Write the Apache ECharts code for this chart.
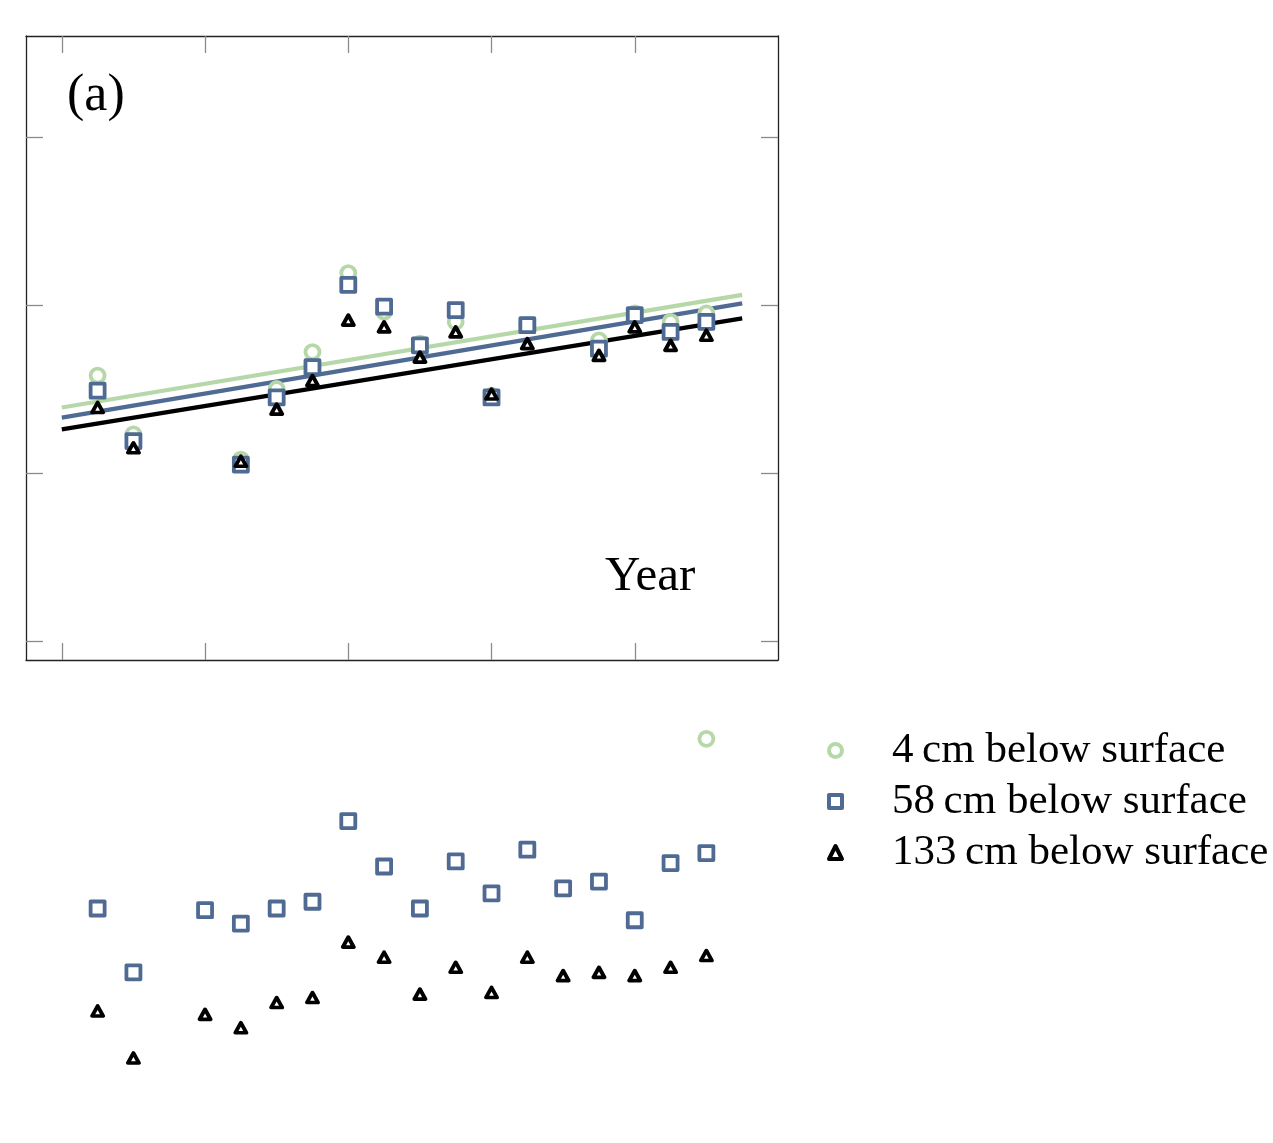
<!DOCTYPE html>
<html><head><meta charset="utf-8">
<script src="https://cdn.jsdelivr.net/npm/echarts@6/dist/echarts.min.js"></script>
<style>html,body{margin:0;padding:0;background:#fff}#c{width:1273px;height:1143px}</style>
</head><body><div id="c"></div>
<script>
// Panel (a)
const yearsTop = [2001,2002,2005,2006,2007,2008,2009,2010,2011,2012,2013,2015,2016,2017,2018];
const top4   = [9.58,9.23,9.08,9.50,9.72,10.19,9.96,9.77,9.90,9.46,9.88,9.79,9.95,9.90,9.95];
const top58  = [9.49,9.19,9.05,9.45,9.63,10.12,9.99,9.76,9.97,9.45,9.88,9.74,9.94,9.84,9.90];
const top133 = [9.39,9.15,9.07,9.38,9.55,9.91,9.87,9.69,9.84,9.47,9.77,9.70,9.87,9.76,9.82];
// Fitted trend lines (endpoints)
const fitYears = [2000, 2019];
const fit4   = [9.39, 10.06];
const fit58  = [9.33, 10.01];
const fit133 = [9.26, 9.92];
// Lower panel
const yearsBottom = [2001,2002,2004,2005,2006,2007,2008,2009,2010,2011,2012,2013,2014,2015,2016,2017,2018];
const bottom58  = [1.14,0.76,1.13,1.05,1.14,1.18,1.66,1.39,1.14,1.42,1.23,1.49,1.26,1.30,1.07,1.41,1.47];
const bottom133 = [0.53,0.25,0.51,0.43,0.58,0.61,0.94,0.85,0.63,0.79,0.64,0.85,0.74,0.76,0.74,0.79,0.86];
const yearsBottom4 = [2018];
const bottom4 = [2.15];
// Ticks
const xTicks = [2000, 2004, 2008, 2012, 2016];
const yTicks = [8, 9, 10, 11];
const names = ['4\u2009cm below surface', '58\u2009cm below surface', '133\u2009cm below surface'];

const GREEN = '#b6d8a9', BLUE = '#4f6a93', BLACK = '#000000';
const FONT = 'Liberation Serif';
const zip = (xs, ys) => xs.map((x, i) => [x, ys[i]]);

const tickStyle = { show: true, inside: true, length: 17, lineStyle: { color: '#8a8a8a', width: 1.3 } };
const lineStyle = { color: '#222', width: 1.3 };
function xAx(pos, grid, ticks) {
  return { type: 'value', gridIndex: grid, position: pos, min: 1999, max: 2020,
    axisLine: { show: ticks, onZero: false, lineStyle }, splitLine: { show: false },
    axisTick: Object.assign({}, tickStyle, { show: ticks, customValues: xTicks }),
    axisLabel: { show: false }, show: ticks };
}
function yAx(pos, grid, ticks, min, max) {
  return { type: 'value', gridIndex: grid, position: pos, min, max,
    axisLine: { show: ticks, onZero: false, lineStyle }, splitLine: { show: false },
    axisTick: Object.assign({}, tickStyle, { show: ticks, customValues: yTicks }),
    axisLabel: { show: false }, show: ticks };
}
const yMinTop = 8 - 19/168, yMaxTop = 8 + 605/168;

const BW = 3.8;
const circleStyle = { color: '#fff', borderColor: GREEN, borderWidth: BW, opacity: 1 };
const squareStyle = { color: '#fff', borderColor: BLUE, borderWidth: BW, borderJoin: 'round', opacity: 1 };
const triStyle = { color: '#fff', borderColor: BLACK, borderWidth: BW, borderJoin: 'round', opacity: 1 };

const option = {
  animation: false,
  backgroundColor: '#fff',
  grid: [
    { left: 26, top: 36, width: 752, height: 624 },
    { left: 26, top: 680, width: 752, height: 420 }
  ],
  xAxis: [xAx('bottom', 0, true), xAx('top', 0, true), xAx('bottom', 1, false)],
  yAxis: [yAx('left', 0, true, yMinTop, yMaxTop), yAx('right', 0, true, yMinTop, yMaxTop),
          { type: 'value', gridIndex: 1, min: 0, max: 2.5, show: false }],
  legend: {
    orient: 'vertical', left: 822, top: 724, itemGap: 8,
    itemWidth: 13, itemHeight: 13,
    data: [
      { name: names[0], icon: 'circle', itemStyle: { color: '#fff', borderColor: GREEN, borderWidth: 4 } },
      { name: names[1], icon: 'rect', itemStyle: { color: '#fff', borderColor: BLUE, borderWidth: 4, borderJoin: 'round' } },
      { name: names[2], icon: 'triangle', itemStyle: { color: '#fff', borderColor: BLACK, borderWidth: 4, borderJoin: 'round' } }
    ],
    textStyle: { fontFamily: FONT, fontSize: 43, color: '#000', padding: [0, 0, 0, 45] }
  },
  graphic: [
    { type: 'text', left: 67, top: 70, style: { text: '(a)', fontFamily: FONT, fontSize: 52, fill: '#000' } },
    { type: 'text', left: 605, top: 553, style: { text: 'Year', fontFamily: FONT, fontSize: 49, fill: '#000' } }
  ],
  series: [
    { type: 'line', name: 'fit4', xAxisIndex: 0, yAxisIndex: 0, data: zip(fitYears, fit4), symbol: 'none',
      lineStyle: { color: GREEN, width: 4.2 }, z: 1 },
    { type: 'line', name: 'fit58', xAxisIndex: 0, yAxisIndex: 0, data: zip(fitYears, fit58), symbol: 'none',
      lineStyle: { color: BLUE, width: 4.2 }, z: 1 },
    { type: 'line', name: 'fit133', xAxisIndex: 0, yAxisIndex: 0, data: zip(fitYears, fit133), symbol: 'none',
      lineStyle: { color: BLACK, width: 4.2 }, z: 1 },
    { type: 'scatter', name: names[0], xAxisIndex: 0, yAxisIndex: 0, data: zip(yearsTop, top4),
      symbol: 'circle', symbolSize: 14, itemStyle: circleStyle, z: 2 },
    { type: 'scatter', name: names[1], xAxisIndex: 0, yAxisIndex: 0, data: zip(yearsTop, top58),
      symbol: 'rect', symbolSize: 14, itemStyle: squareStyle, z: 3 },
    { type: 'scatter', name: names[2], xAxisIndex: 0, yAxisIndex: 0, data: zip(yearsTop, top133),
      symbol: 'triangle', symbolSize: [11, 10], itemStyle: triStyle, z: 4 },
    { type: 'scatter', name: names[0], xAxisIndex: 2, yAxisIndex: 2, data: zip(yearsBottom4, bottom4),
      symbol: 'circle', symbolSize: 14, itemStyle: circleStyle, z: 2 },
    { type: 'scatter', name: names[1], xAxisIndex: 2, yAxisIndex: 2, data: zip(yearsBottom, bottom58),
      symbol: 'rect', symbolSize: 14, itemStyle: squareStyle, z: 3 },
    { type: 'scatter', name: names[2], xAxisIndex: 2, yAxisIndex: 2, data: zip(yearsBottom, bottom133),
      symbol: 'triangle', symbolSize: [11, 10], itemStyle: triStyle, z: 4 }
  ]
};
const chart = echarts.init(document.getElementById('c'), null, { renderer: 'canvas' });
chart.setOption(option);
</script>
</body></html>
